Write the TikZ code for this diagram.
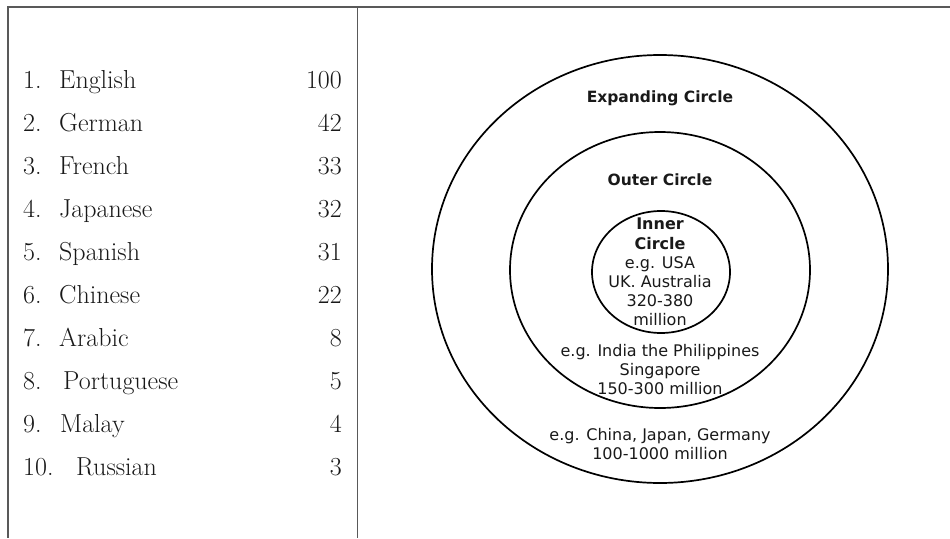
\documentclass[tikz,border=0pt]{standalone}
\usepackage{fontspec}
\newfontfamily\circfont{DejaVu Sans}
\usetikzlibrary{shapes.geometric}
\begin{document}
\begin{tikzpicture}[x=1pt,y=-1pt,
  rule/.style={draw=black!65,line width=1.2pt},
  ring/.style={draw=black,ellipse,line width=1.7pt,inner sep=0pt},
  tabtext/.style={inner sep=0pt,font=\fontsize{26}{30}\selectfont,text=black!90},
  ctext/.style={align=center,inner sep=0pt,font=\circfont\fontsize{16}{19.2}\selectfont,text=black!90},
  cbold/.style={ctext,font=\circfont\bfseries\fontsize{15.5}{19.2}\selectfont}]
\useasboundingbox (0,0) rectangle (950,538);
% table rules
\coordinate (tl) at (8,7);
\coordinate (tr) at (950,7);
\coordinate (bl) at (8,538);
\coordinate (dt) at (357,7);
\coordinate (db) at (357,538);
\draw[rule] (tr) -- (tl) -- (bl);
\draw[rule,line width=0.9pt] (dt) -- (db);
% table rows
\foreach \i/\name/\val/\nx [count=\k from 0] in {1/English/100/59,2/German/42/59,3/French/33/59,4/Japanese/32/59,5/Spanish/31/59,6/Chinese/22/59,7/Arabic/8/59,8/Portuguese/5/63,9/Malay/4/60,10/Russian/3/76}{
  \node[tabtext,anchor=base west] (num\i) at (23,88+43.1*\k) {\i.};
  \node[tabtext,anchor=base west] (lang\i) at (\nx,88+43.1*\k) {\name};
  \node[tabtext,anchor=base east] (val\i) at (342,88+43.1*\k) {\val};
}
% circles
\node[ring,minimum width=456pt,minimum height=428pt] (expanding) at (660,269) {};
\node[ring,minimum width=300pt,minimum height=276pt] (outer) at (660,270) {};
\node[ring,minimum width=138pt,minimum height=122pt] (inner) at (661,272) {};
% labels
\node[cbold] (explab) at (660,98) {Expanding Circle};
\node[cbold] (outlab) at (660,180) {Outer Circle};
\node[ctext,anchor=north] (innlab) at (660,218) {\textbf{Inner}\\\textbf{Circle}\\e.g. USA\\UK. Australia\\320-380\\million};
\node[ctext,anchor=north] (outtxt) at (660,344) {e.g. India the Philippines\\Singapore\\150-300 million};
\node[ctext,anchor=north] (exptxt) at (660,428) {e.g. China, Japan, Germany\\100-1000 million};
\end{tikzpicture}
\end{document}
